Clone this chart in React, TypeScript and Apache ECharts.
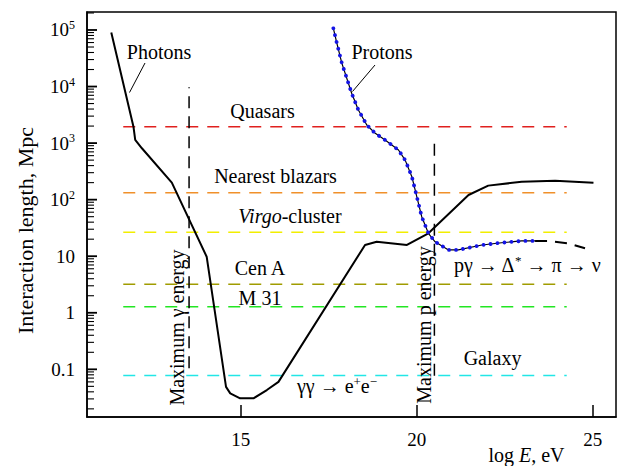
import React, { useEffect, useRef } from 'react';
import * as echarts from 'echarts';

const FONT = '"Liberation Serif", "Times New Roman", serif';

// Photon interaction length (log E in eV, length in Mpc)
const photonEnergy = [11.32, 11.95, 12.0, 12.19, 13.04, 14.03, 14.58, 14.7, 14.98, 15.36, 15.74, 16.07, 18.53, 18.86, 19.72, 20.33, 21.47, 22.03, 22.98, 23.93, 25.02];
const photonLength = [9.0e4, 1950, 1135, 810, 200, 9.8, 0.049, 0.0376, 0.0307, 0.0307, 0.043, 0.06, 15.8, 18.0, 15.8, 25.4, 121, 177, 207, 216, 200];

// Proton interaction length
const protonEnergy = [17.63, 17.73, 17.87, 18.15, 18.34, 18.58, 18.82, 19.1, 19.48, 19.67, 19.86, 20.0, 20.14, 20.33, 20.52, 20.9, 21.18, 21.85, 22.41, 22.98, 23.36];
const protonLength = [1.07e5, 5.8e4, 2.6e4, 7600, 3850, 2090, 1490, 1135, 755, 500, 255, 113, 50, 25.4, 18, 12.9, 12.9, 15.8, 17.3, 18.6, 18.6];
// extrapolated tail of the proton curve
const protonTailEnergy = [23.36, 23.74, 24.31, 24.78];
const protonTailLength = [18.6, 18.6, 16.9, 13.8];

// Distances to sources (Mpc)
const sourceNames = ['Quasars', 'Nearest blazars', 'Virgo-cluster', 'Cen A', 'M 31', 'Galaxy'];
const sourceDistance = [1950, 133, 26.4, 3.2, 1.28, 0.078];
const sourceColors = ['#e0201e', '#f0902a', '#f2ee00', '#a09c00', '#22e622', '#22e6e6'];
const sourceEnergySpan = [11.66, 24.26];

// Maximum energies: [log E, lower length, upper length]
const maxGamma = [13.53, 0.104, 9700];
const maxProton = [20.5, 0.077, 1060];

const xTicks = [15, 20, 25];
const yDecades = [-1, 0, 1, 2, 3, 4, 5];
const X_MIN = 10.63;
const X_MAX = 25.66;
const Y_MIN = -1.843;
const Y_MAX = 5.318;

const lg = (v: number) => Math.log10(v);
const pairs = (xs: number[], ys: number[]) => xs.map((x, i) => [x, lg(ys[i])]);

// logarithmic minor tick positions (2..9 within each decade)
const minorTicks: number[] = [];
for (let k = -2; k <= 5; k++) {
  for (let j = 2; j <= 9; j++) {
    const v = lg(j) + k;
    if (v > Y_MIN + 0.01 && v < Y_MAX - 0.01) minorTicks.push(v);
  }
}

const txt = (text: string, x: number, y: number, extra: any = {}) => ({
  type: 'text',
  x,
  y,
  z: 100,
  ...extra,
  style: {
    text,
    fill: '#000',
    font: `20px ${FONT}`,
    align: 'center',
    verticalAlign: 'middle',
    ...(extra.style || {}),
  },
});

const supRichStyle = (size: number) => ({
  n: { fontSize: size, fontFamily: FONT, fill: '#000', lineHeight: 22 },
  i: { fontSize: size, fontFamily: FONT, fontStyle: 'italic', fill: '#000', lineHeight: 22 },
  s: { fontSize: 13, fontFamily: FONT, fill: '#000', lineHeight: 22, verticalAlign: 'top' },
});

export default function App() {
  const ref = useRef<HTMLDivElement>(null);

  useEffect(() => {
    const chart = echarts.init(ref.current!, null, { renderer: 'svg' });

    const sourceSeries = sourceNames.map((name, i) => ({
      name,
      type: 'line',
      symbol: 'none',
      silent: true,
      z: 1,
      data: [
        [sourceEnergySpan[0], lg(sourceDistance[i])],
        [sourceEnergySpan[1], lg(sourceDistance[i])],
      ],
      lineStyle: { color: sourceColors[i], width: 1.5, type: [12, 9] },
    }));

    const limitSeries = [maxGamma, maxProton].map((m, i) => ({
      name: i === 0 ? 'Maximum γ energy' : 'Maximum p energy',
      type: 'line',
      symbol: 'none',
      silent: true,
      z: 2,
      data: [
        [m[0], lg(m[1])],
        [m[0], lg(m[2])],
      ],
      lineStyle: { color: '#000', width: 1.5, type: [12, 8] },
    }));

    chart.setOption({
      animation: false,
      backgroundColor: '#fff',
      grid: {
        left: 87,
        right: 19,
        top: 12,
        bottom: 49,
        show: true,
        borderColor: '#000',
        borderWidth: 1.5,
        backgroundColor: 'transparent',
      },
      xAxis: {
        type: 'value',
        min: X_MIN,
        max: X_MAX,
        axisLine: { show: true, onZero: false, lineStyle: { color: '#000', width: 1.5 } },
        axisTick: { show: true, inside: true, length: 12, customValues: xTicks, lineStyle: { color: '#000', width: 1.5 } },
        axisLabel: {
          customValues: xTicks,
          margin: 13,
          fontSize: 19,
          fontFamily: FONT,
          color: '#000',
        },
        splitLine: { show: false },
      },
      yAxis: {
        type: 'value',
        min: Y_MIN,
        max: Y_MAX,
        axisLine: { show: true, onZero: false, lineStyle: { color: '#000', width: 1.5 } },
        axisTick: { show: false },
        axisLabel: {
          customValues: yDecades,
          margin: 12,
          fontSize: 19,
          fontFamily: FONT,
          color: '#000',
          formatter: (v: number) => {
            const p = Math.round(v);
            if (p === -1) return '0.1';
            if (p === 0) return '1';
            if (p === 1) return '10';
            return `{b|10}{s|${p}}`;
          },
          rich: {
            b: { fontSize: 19, fontFamily: FONT, color: '#000', lineHeight: 22 },
            s: { fontSize: 12, fontFamily: FONT, color: '#000', lineHeight: 22, verticalAlign: 'top' },
          },
        },
        splitLine: { show: false },
      },
      series: [
        ...sourceSeries,
        ...limitSeries,
        {
          name: 'Photons',
          type: 'line',
          symbol: 'none',
          silent: true,
          z: 5,
          data: pairs(photonEnergy, photonLength),
          lineStyle: { color: '#000', width: 2 },
        },
        {
          name: 'Protons',
          type: 'line',
          symbol: 'none',
          silent: true,
          z: 5,
          data: pairs(protonEnergy, protonLength),
          lineStyle: { color: '#000', width: 1.2 },
        },
        {
          name: 'Protons dots',
          type: 'line',
          symbol: 'none',
          silent: true,
          z: 6,
          data: pairs(protonEnergy, protonLength),
          lineStyle: { color: '#1414e6', width: 3.8, type: [0.01, 7], cap: 'round' },
        },
        {
          name: 'Protons tail',
          type: 'line',
          symbol: 'none',
          silent: true,
          z: 5,
          data: pairs(protonTailEnergy, protonTailLength),
          lineStyle: { color: '#000', width: 2, type: [12, 8] },
        },
      ],
    });

    // logarithmic y ticks, placed through the axis scale, pointing inward
    const tickLine = (v: number, len: number, w: number) => {
      const p = chart.convertToPixel({ gridIndex: 0 }, [X_MIN, v]) as number[];
      return {
        type: 'line',
        z: 50,
        shape: { x1: p[0], y1: p[1], x2: p[0] + len, y2: p[1] },
        style: { stroke: '#000', lineWidth: w },
      };
    };

    chart.setOption({
      graphic: [
        ...yDecades.map((v) => tickLine(v, 10, 1.8)),
        ...minorTicks.map((v) => tickLine(v, 7, 1.1)),
        txt('Photons', 159, 52),
        { type: 'line', z: 100, shape: { x1: 145, y1: 63, x2: 129.5, y2: 92.5 }, style: { stroke: '#000', lineWidth: 1 } },
        txt('Protons', 382, 52),
        { type: 'line', z: 100, shape: { x1: 375, y1: 65, x2: 352.5, y2: 91.5 }, style: { stroke: '#000', lineWidth: 1 } },
        txt(sourceNames[0], 262.5, 111),
        txt(sourceNames[1], 275.5, 176),
        txt('', 290, 216, { style: { text: '{i|Virgo}{n|-cluster}', rich: supRichStyle(20) } }),
        txt(sourceNames[3], 260, 268),
        txt(sourceNames[4], 260, 298),
        txt(sourceNames[5], 492.5, 358),
        txt('', 337, 386, { style: { text: '{n|γγ → e}{s|+}{n|e}{s|−}', rich: supRichStyle(20) } }),
        txt('', 527, 265, { style: { text: '{n|pγ → Δ}{s|*}{n| → π → ν}', rich: supRichStyle(20) } }),
        txt('Maximum γ energy', 177, 327.5, { rotation: Math.PI / 2 }),
        txt('Maximum p energy', 423.5, 325, { rotation: Math.PI / 2 }),
        txt('Interaction length, Mpc', 25, 230.5, { rotation: Math.PI / 2, style: { font: `22px ${FONT}` } }),
        txt('', 526.5, 455, { style: { text: '{n|log }{i|E}{n|, eV}', rich: supRichStyle(20) } }),
      ],
    });

    return () => chart.dispose();
  }, []);

  return <div ref={ref} style={{ position: 'absolute', left: 0, top: 0, width: 635, height: 466 }} />;
}
